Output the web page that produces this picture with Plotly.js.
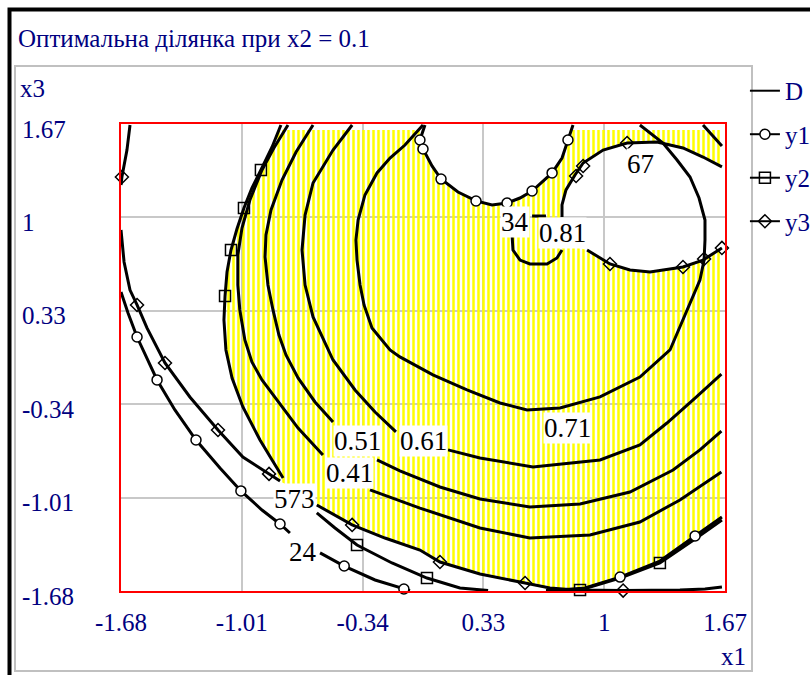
<!DOCTYPE html>
<html><head><meta charset="utf-8">
<script src="https://cdn.plot.ly/plotly-3.0.1.min.js"></script>
<style>html,body{margin:0;padding:0;background:#fff;} #chart{width:810px;height:675px;}</style>
</head><body><div id="chart"></div>
<script>
// ---- axis ticks ----
const tickVals = [-1.68, -1.01, -0.34, 0.33, 1, 1.67];
const tickText = ['-1.68', '-1.01', '-0.34', '0.33', '1', '1.67'];

// ---- D contours (x1, x3) ----
const d41a_x1 = [-0.754,-0.832,-0.898,-0.965,-1.009,-1.032,-1.032,-1.021,-0.993,-0.954,-0.898,-0.815,-0.698,-0.560];
const d41a_x3 = [1.663,1.498,1.340,1.125,0.924,0.730,0.515,0.336,0.121,-0.037,-0.166,-0.310,-0.511,-0.704];
const d41b_x1 = [-0.299,-0.022,0.311,0.588,0.921,1.198,1.420,1.650];
const d41b_x3 = [-0.955,-1.085,-1.228,-1.300,-1.278,-1.185,-1.027,-0.827];

const d51a_x1 = [-0.615,-0.709,-0.787,-0.848,-0.876,-0.881,-0.865,-0.837,-0.804,-0.765,-0.698,-0.604,-0.504];
const d51a_x3 = [1.663,1.469,1.268,1.053,0.874,0.716,0.515,0.336,0.156,0.013,-0.152,-0.324,-0.468];
const d51b_x1 = [-0.260,-0.133,0.089,0.311,0.588,0.866,1.143,1.382,1.531,1.650];
const d51b_x3 = [-0.740,-0.819,-0.934,-1.020,-1.077,-1.056,-0.970,-0.812,-0.668,-0.533];

const d61a_x1 = [-0.398,-0.504,-0.615,-0.659,-0.676,-0.659,-0.615,-0.504,-0.382,-0.271,-0.155];
const d61a_x3 = [1.663,1.483,1.247,1.017,0.766,0.515,0.286,-0.023,-0.238,-0.396,-0.539];
const d61b_x1 = [0.134,0.311,0.605,0.977,1.198,1.348,1.504,1.650];
const d61b_x3 = [-0.668,-0.726,-0.790,-0.740,-0.632,-0.475,-0.296,-0.124];
const d61c_x1 = [1.548,1.598,1.653];
const d61c_x3 = [1.663,1.591,1.512];

const d71_x1 = [-0.005,-0.105,-0.188,-0.260,-0.327,-0.365,-0.377,-0.371,-0.354,-0.332,-0.288,-0.188,-0.133,0.050,0.239,0.422,0.572,0.755,0.977,1.198,1.365,1.459,1.531,1.554,1.559,1.559,1.526,1.476,1.404,1.326,1.254,1.198];
const d71_x3 = [1.663,1.519,1.426,1.319,1.161,0.981,0.838,0.694,0.515,0.372,0.207,0.049,-0.001,-0.130,-0.238,-0.331,-0.381,-0.367,-0.288,-0.145,0.049,0.336,0.551,0.694,0.838,0.981,1.139,1.290,1.412,1.534,1.605,1.663];

const d81a_x1 = [0.600,0.677];
const d81a_x3 = [1.010,1.010];
const d81b_x1 = [0.489,0.494,0.533,0.588,0.683,0.738,0.766];
const d81b_x3 = [0.874,0.766,0.694,0.666,0.666,0.709,0.766];

// ---- y1 (circles) ----
const y1a_x1 = [0.006,-0.022,-0.005,0.045,0.095,0.189,0.289,0.378,0.461,0.533,0.600,0.711,0.766,0.799,0.827];
const y1a_x3 = [1.663,1.555,1.491,1.369,1.275,1.182,1.118,1.089,1.103,1.139,1.189,1.319,1.426,1.555,1.663];
const y1b_x1 = [-1.68,-1.641,-1.591,-1.558,-1.480,-1.381,-1.264,-1.131,-1.015,-0.898,-0.798,-0.743];
const y1b_x3 = [0.465,0.314,0.142,0.049,-0.166,-0.381,-0.597,-0.798,-0.962,-1.099,-1.199,-1.264];
const y1c_x1 = [-0.576,-0.442,-0.271,-0.111,-0.077];
const y1c_x3 = [-1.407,-1.501,-1.601,-1.666,-1.677];
const y1d_x1 = [0.716,0.894,1.088,1.309,1.504,1.653];
const y1d_x3 = [-1.676,-1.658,-1.580,-1.465,-1.285,-1.149];
const y1m_x1 = [-0.022,-0.005,0.095,0.289,0.461,0.600,0.711,0.799,-1.591,-1.480,-1.264,-1.015,-0.798,-0.442,-0.111,1.088,1.504];
const y1m_x3 = [1.555,1.491,1.275,1.118,1.103,1.189,1.319,1.555,0.142,-0.166,-0.597,-0.962,-1.199,-1.501,-1.666,-1.580,-1.285];

// ---- y2 (squares) ----
const y2a_x1 = [-0.793,-0.842,-0.904,-0.954,-0.998,-1.037,-1.070,-1.092,-1.103,-1.109,-1.098,-1.064,-1.004,-0.909,-0.842,-0.781];
const y2a_x3 = [1.663,1.505,1.340,1.211,1.067,0.917,0.766,0.608,0.436,0.264,0.049,-0.152,-0.360,-0.597,-0.740,-0.869];
const y2b_x1 = [-0.594,-0.493,-0.371,-0.177,0.017,0.200,0.356];
const y2b_x3 = [-1.120,-1.228,-1.350,-1.479,-1.587,-1.658,-1.677];
const y2c_x1 = [0.677,0.866,1.088,1.309,1.504,1.653];
const y2c_x3 = [-1.677,-1.673,-1.587,-1.479,-1.307,-1.171];
const y2m_x1 = [-0.904,-0.998,-1.070,-1.103,-0.371,0.017,0.866,1.309];
const y2m_x3 = [1.340,1.067,0.766,0.436,-1.350,-1.587,-1.673,-1.479];

// ---- y3 (diamonds) ----
const y3a_x1 = [-1.630,-1.647,-1.675,-1.68];
const y3a_x3 = [1.663,1.483,1.290,1.232];
const y3b_x1 = [-1.68,-1.663,-1.630,-1.591,-1.536,-1.475,-1.436,-1.298,-1.142,-1.004,-0.859,-0.798];
const y3b_x3 = [0.910,0.680,0.479,0.372,0.207,0.049,-0.044,-0.288,-0.525,-0.719,-0.840,-0.891];
const y3c_x1 = [-0.594,-0.398,-0.216,-0.022,0.089,0.311,0.561,0.699,0.838,1.105,1.420,1.559,1.653];
const y3c_x3 = [-1.063,-1.206,-1.300,-1.386,-1.472,-1.558,-1.623,-1.658,-1.673,-1.677,-1.673,-1.666,-1.651];
const y3d_x1 = [1.653,1.548,1.437,1.293,1.127,0.994,0.883,0.838,0.788,0.766,0.766];
const y3d_x3 = [1.362,1.433,1.498,1.541,1.534,1.483,1.390,1.304,1.197,1.089,1.003];
const y3e_x1 = [0.905,1.032,1.143,1.254,1.437,1.548,1.653];
const y3e_x3 = [0.766,0.666,0.623,0.608,0.644,0.694,0.781];
const y3m_x1 = [-1.675,-1.591,-1.436,-1.142,-0.859,-0.398,0.089,0.561,1.105,1.127,0.883,0.844,1.032,1.437,1.554,1.653];
const y3m_x3 = [1.290,0.372,-0.044,-0.525,-0.840,-1.206,-1.472,-1.623,-1.677,1.534,1.369,1.297,0.666,0.644,0.702,0.781];

// ---- feasible (hatched) region boundary ----
const zone_x1 = [-0.804,0.001,-0.016,-0.005,0.045,0.095,0.189,0.289,0.378,0.461,0.533,0.600,0.711,0.766,0.799,0.821,1.653,
  1.653,1.548,1.437,1.293,1.127,0.994,0.883,0.838,0.788,0.766,0.766,0.783,0.838,0.905,1.032,1.143,1.254,1.437,1.548,1.653,
  1.653,1.504,1.309,1.088,0.894,0.755,0.699,0.561,0.311,0.089,-0.022,-0.216,-0.398,-0.594,-0.798,
  -0.842,-0.909,-1.004,-1.064,-1.098,-1.109,-1.103,-1.092,-1.070,-1.037,-0.998,-0.954,-0.904,-0.842,-0.804];
const zone_x3 = [1.627,1.627,1.555,1.491,1.369,1.275,1.182,1.118,1.089,1.103,1.139,1.189,1.319,1.426,1.555,1.627,1.627,
  1.362,1.433,1.498,1.541,1.534,1.483,1.390,1.304,1.197,1.089,1.003,0.874,0.788,0.766,0.666,0.623,0.608,0.644,0.694,0.781,
  -1.149,-1.285,-1.465,-1.580,-1.658,-1.673,-1.658,-1.623,-1.558,-1.472,-1.386,-1.300,-1.206,-1.063,-0.891,
  -0.740,-0.597,-0.360,-0.152,0.049,0.264,0.436,0.608,0.766,0.917,1.067,1.211,1.340,1.505,1.627];

// ---- contour labels ----
const labelText = ['34', '0.81', '67', '0.71', '0.61', '0.51', '0.41', '573', '24'];
const labelX1 = [0.505, 0.766, 1.204, 0.799, -0.005, -0.371, -0.415, -0.715, -0.671];
const labelX3 = [0.967, 0.888, 1.383, -0.511, -0.604, -0.604, -0.833, -1.020, -1.400];

const seriesNames = ['D', 'y1', 'y2', 'y3'];

// ---- build ----
function join(segs) {
  const x = [], y = [];
  segs.forEach((s, i) => { if (i) { x.push(null); y.push(null); } x.push(...s[0]); y.push(...s[1]); });
  return {x, y};
}
const FONT = "'Liberation Serif', 'DejaVu Serif', 'Times New Roman', serif";
const NAVY = '#000080';
const LW = 3;

const D = join([[d41a_x1,d41a_x3],[d41b_x1,d41b_x3],[d51a_x1,d51a_x3],[d51b_x1,d51b_x3],
  [d61a_x1,d61a_x3],[d61b_x1,d61b_x3],[d61c_x1,d61c_x3],[d71_x1,d71_x3],[d81a_x1,d81a_x3],[d81b_x1,d81b_x3]]);
const Y1 = join([[y1a_x1,y1a_x3],[y1b_x1,y1b_x3],[y1c_x1,y1c_x3],[y1d_x1,y1d_x3]]);
const Y2 = join([[y2a_x1,y2a_x3],[y2b_x1,y2b_x3],[y2c_x1,y2c_x3]]);
const Y3 = join([[y3a_x1,y3a_x3],[y3b_x1,y3b_x3],[y3c_x1,y3c_x3],[y3d_x1,y3d_x3],[y3e_x1,y3e_x3]]);

const lineStyle = {color: '#000', width: LW};
const mk = {
  y1: {symbol: 'circle', size: 10, color: '#fff', line: {color: '#000', width: 1.5}},
  y2: {symbol: 'square-open', size: 11, color: '#000', line: {color: '#000', width: 1.5}},
  y3: {symbol: 'diamond-open', size: 10, color: '#000', line: {color: '#000', width: 1.5}}
};

const traces = [
  {x: zone_x1, y: zone_x3, mode: 'lines', fill: 'toself', line: {width: 0, color: 'rgba(0,0,0,0)'},
   fillcolor: '#ffff00', fillpattern: {shape: '|', fgcolor: '#ffff00', size: 5, solidity: 0.5},
   showlegend: false, hoverinfo: 'skip'},
  {x: D.x, y: D.y, mode: 'lines', line: lineStyle, showlegend: false, connectgaps: false},
  {x: Y1.x, y: Y1.y, mode: 'lines', line: lineStyle, showlegend: false, connectgaps: false},
  {x: Y2.x, y: Y2.y, mode: 'lines', line: lineStyle, showlegend: false, connectgaps: false},
  {x: Y3.x, y: Y3.y, mode: 'lines', line: lineStyle, showlegend: false, connectgaps: false},
  {x: y1m_x1, y: y1m_x3, mode: 'markers', marker: mk.y1, showlegend: false, cliponaxis: false},
  {x: y2m_x1, y: y2m_x3, mode: 'markers', marker: mk.y2, showlegend: false, cliponaxis: false},
  {x: y3m_x1, y: y3m_x3, mode: 'markers', marker: mk.y3, showlegend: false, cliponaxis: false},
  // legend entries
  {x: [null], y: [null], mode: 'lines', name: seriesNames[0], line: {color: '#000', width: 2}, legendgroup: 'g0'},
  {x: [null], y: [null], mode: 'lines+markers', name: seriesNames[1], line: {color: '#000', width: 2}, marker: mk.y1, legendgroup: 'g1'},
  {x: [null], y: [null], mode: 'lines+markers', name: seriesNames[2], line: {color: '#000', width: 2}, marker: mk.y2, legendgroup: 'g2'},
  {x: [null], y: [null], mode: 'lines+markers', name: seriesNames[3], line: {color: '#000', width: 2}, marker: mk.y3, legendgroup: 'g3'}
];

const annotations = [];
labelText.forEach((t, i) => annotations.push({
  x: labelX1[i], y: labelX3[i], xref: 'x', yref: 'y', text: t, showarrow: false,
  bgcolor: '#fff', borderpad: 0, font: {family: FONT, size: 27, color: '#000'}
}));
tickVals.forEach((v, i) => annotations.push({
  x: -0.1672, xref: 'paper', y: v, yref: 'y', xanchor: 'left', yanchor: 'middle', yshift: -5,
  text: tickText[i], showarrow: false, font: {family: FONT, size: 25, color: NAVY}
}));
annotations.push({x: -0.1705, xref: 'paper', y: 1.075, yref: 'paper', xanchor: 'left', yanchor: 'middle',
  text: 'x3', showarrow: false, font: {family: FONT, size: 25, color: NAVY}});
annotations.push({x: 1.0381, xref: 'paper', y: -0.1413, yref: 'paper', xanchor: 'right', yanchor: 'middle',
  text: 'x1', showarrow: false, font: {family: FONT, size: 25, color: NAVY}});

const axisCommon = {
  range: [-1.68, 1.67], tickvals: tickVals, showgrid: true, gridcolor: '#c8c8c8', gridwidth: 2,
  zeroline: false, showline: true, linecolor: '#ff0000', linewidth: 2, mirror: true, ticks: '', fixedrange: true
};

const layout = {
  width: 810, height: 675,
  margin: {l: 121, r: 85, t: 124, b: 84, autoexpand: false},
  paper_bgcolor: '#fff', plot_bgcolor: '#fff',
  font: {family: FONT, color: NAVY},
  title: {text: 'Оптимальна ділянка при x2 = 0.1', xref: 'container', yref: 'container',
    x: 0.0222, xanchor: 'left', y: 0.9437, yanchor: 'middle', font: {family: FONT, size: 25, color: NAVY}},
  xaxis: Object.assign({}, axisCommon, {ticktext: tickText, tickfont: {family: FONT, size: 25, color: NAVY}, ticklabelstandoff: 8}),
  yaxis: Object.assign({}, axisCommon, {showticklabels: false}),
  showlegend: true,
  legend: {x: 1.033, xanchor: 'left', y: 1.12, yanchor: 'top', bgcolor: 'rgba(0,0,0,0)',
    font: {family: FONT, size: 25, color: NAVY}, traceorder: 'grouped', tracegroupgap: 8, itemclick: false},
  annotations: annotations,
  shapes: [
    {type: 'rect', xref: 'paper', yref: 'paper', x0: -0.1846, x1: 2, y0: -1, y1: 1.2452, line: {color: '#000', width: 4}},
    {type: 'rect', xref: 'paper', yref: 'paper', x0: -0.1755, x1: 1.0447, y0: -0.1713, y1: 1.1242, line: {color: '#c0c0c0', width: 2}}
  ]
};

Plotly.newPlot('chart', traces, layout, {displayModeBar: false, staticPlot: true});
</script>
</body></html>
